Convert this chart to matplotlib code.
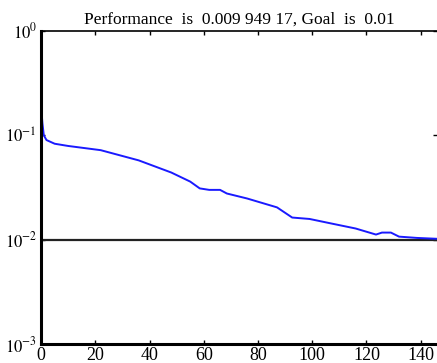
import math
import matplotlib.pyplot as plt
from matplotlib.ticker import FixedLocator, FuncFormatter

plt.rcParams['font.family'] = ['Liberation Serif', 'DejaVu Serif']
plt.rcParams['mathtext.fontset'] = 'stix'

# training performance
epoch = [0, 0.5, 1, 2, 5, 10, 22, 36, 48, 55, 58.5, 62, 66, 68.5, 76, 87, 92.6, 99,
         107, 116, 123.5, 125.7, 129, 132, 138.6, 146]
perf = [0.19, 0.13, 0.1, 0.09, 0.083, 0.079, 0.072, 0.0575, 0.044, 0.036, 0.031,
        0.030, 0.030, 0.0277, 0.0248, 0.0204, 0.0163, 0.0158, 0.0143, 0.0128,
        0.0112, 0.0117, 0.0117, 0.0107, 0.0104, 0.0102]
goal = 0.01
xticks = [0, 20, 40, 60, 80, 100, 120, 140]
yticks = [1e-3, 1e-2, 1e-1, 1e0]

fig = plt.figure(figsize=(4.37, 3.63), dpi=100)
ax = fig.add_axes([0.094, 0.052, 0.906, 0.863])

ax.axhline(goal, color='#222222', linewidth=1.6)
ax.plot(epoch, perf, color='#1a1aff', linewidth=1.4)

ax.set_yscale('log')
ax.set_xlim(0, 146)
ax.set_ylim(1e-3, 1)
ax.xaxis.set_major_locator(FixedLocator(xticks))
ax.yaxis.set_major_locator(FixedLocator(yticks))
ax.yaxis.set_minor_locator(FixedLocator([]))
ax.yaxis.set_major_formatter(FuncFormatter(lambda v, p: r'$10^{%d}$' % round(math.log10(v))))
ax.tick_params(direction='in', length=3, width=1, top=True, right=True)
ax.tick_params(axis='x', labelsize=13, pad=2)
ax.tick_params(axis='y', labelsize=12, pad=3)

for s in ['left', 'bottom']:
    ax.spines[s].set_linewidth(2.2)
ax.spines['top'].set_linewidth(1.2)
ax.spines['right'].set_visible(False)

ax.set_title('Performance  is  0.009 949 17, Goal  is  0.01', fontsize=12.5, pad=5)

fig.savefig('out.png', dpi=100)
